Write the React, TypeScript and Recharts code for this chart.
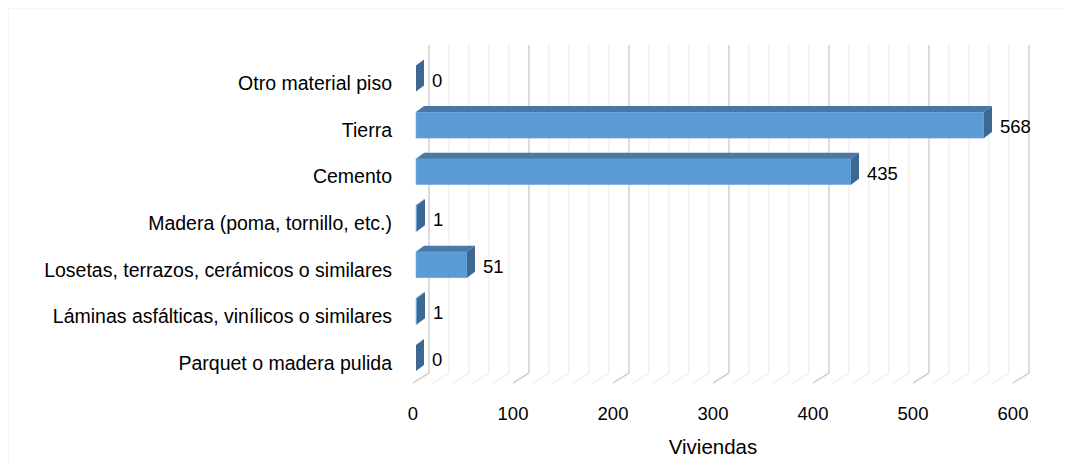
import { Bar, BarChart, CartesianGrid, LabelList, XAxis, YAxis } from "recharts";

const categories = [
  "Otro material piso",
  "Tierra",
  "Cemento",
  "Madera (poma, tornillo, etc.)",
  "Losetas, terrazos, cerámicos o similares",
  "Láminas asfálticas, vinílicos o similares",
  "Parquet o madera pulida",
];
const viviendas = [0, 568, 435, 1, 51, 1, 0];
// grid every 20, labels only every 100
const gridValues = [
  0, 20, 40, 60, 80, 100, 120, 140, 160, 180, 200, 220, 240, 260, 280, 300,
  320, 340, 360, 380, 400, 420, 440, 460, 480, 500, 520, 540, 560, 580, 600,
];
const labelStep = 100;

const data = categories.map((name, i) => ({ name, value: viviendas[i] }));

const FONT = '"Liberation Sans", Arial, sans-serif';
const DEPTH_X = 16;
const DEPTH_Y = 10;
const BAR_DX = 8;
const BAR_DY = 6;
const BAR_SHIFT_X = 3;
const BAR_SHIFT_Y = -4.5;

function GridLine3D(props: any) {
  const x = props.x1;
  const top = Math.min(props.y1, props.y2);
  const bottom = Math.max(props.y1, props.y2);
  const major = (props.index ?? 0) % 5 === 0;
  const stroke = major ? "#d3d3d3" : "#ececec";
  const sw = major ? 1.6 : 1.2;
  return (
    <g key={`g-${props.index}`}>
      <line
        x1={x + DEPTH_X}
        y1={top - 15}
        x2={x + DEPTH_X}
        y2={bottom - 3 - DEPTH_Y}
        stroke={stroke}
        strokeWidth={sw}
      />
      <line
        x1={x}
        y1={bottom - 3}
        x2={x + DEPTH_X}
        y2={bottom - 3 - DEPTH_Y}
        stroke={stroke}
        strokeWidth={sw}
      />
    </g>
  );
}

function Bar3D(props: any) {
  const { x, y, width, height } = props;
  const x0 = x + BAR_SHIFT_X;
  const y0 = y + BAR_SHIFT_Y;
  const w = Math.max(width, 0);
  const h = height;
  const top = `${x0},${y0} ${x0 + BAR_DX},${y0 - BAR_DY} ${x0 + w + BAR_DX},${y0 - BAR_DY} ${x0 + w},${y0}`;
  const side = `${x0 + w},${y0} ${x0 + w + BAR_DX},${y0 - BAR_DY} ${x0 + w + BAR_DX},${y0 + h - BAR_DY} ${x0 + w},${y0 + h}`;
  return (
    <g>
      <rect x={x0} y={y0} width={w} height={h} fill="#5b9bd5" stroke="#79aee0" strokeWidth={0.6} />
      <polygon points={top} fill="#4878a6" />
      <polygon points={side} fill="#3c6892" />
    </g>
  );
}

function ValueLabel(props: any) {
  const { x, y, width, height, value } = props;
  return (
    <text
      x={x + BAR_SHIFT_X + width + BAR_DX + 8}
      y={y + BAR_SHIFT_Y + height / 2 + 8}
      fontSize={18.5}
      fontFamily={FONT}
      fill="#000"
    >
      {value}
    </text>
  );
}

function CategoryTick(props: any) {
  const { x, y, payload } = props;
  return (
    <text
      x={x}
      y={y + 7}
      textAnchor="end"
      fontSize={19.5}
      fontFamily={FONT}
      fill="#000"
    >
      {payload.value}
    </text>
  );
}

function ValueTick(props: any) {
  const { x, y, payload } = props;
  if (payload.value % labelStep !== 0) return <g />;
  return (
    <text
      x={x}
      y={y + 34}
      textAnchor="middle"
      fontSize={18.5}
      fontFamily={FONT}
      fill="#000"
    >
      {payload.value}
    </text>
  );
}

function Frame() {
  // chart frame (only top/left edges are in view) and the clipped title
  return (
    <svg
      width={1072}
      height={463}
      style={{ position: "absolute", left: 0, top: 0, pointerEvents: "none" }}
    >
      <line x1={7.5} y1={7.5} x2={1072} y2={7.5} stroke="#d9d9d9" strokeWidth={1.5} />
      <line x1={7.5} y1={7.5} x2={7.5} y2={463} stroke="#d9d9d9" strokeWidth={1.5} />
      <text
        x={546}
        y={3}
        textAnchor="middle"
        fontSize={20}
        fontWeight="bold"
        fontFamily={FONT}
        fill="#000"
      >
        Gráfico 4: Material predominante en los pisos
      </text>
    </svg>
  );
}

function App() {
  return (
    <div
      style={{
        position: "relative",
        width: 1072,
        height: 463,
        marginLeft: -8,
        marginTop: -8,
        overflow: "hidden",
      }}
    >
      <BarChart
        width={1072}
        height={463}
        data={data}
        layout="vertical"
        margin={{ top: 60, right: 59, bottom: 0, left: 0 }}
        barCategoryGap={0}
      >
        <CartesianGrid horizontal={false} vertical={GridLine3D} />
        <XAxis
          type="number"
          domain={[0, 600]}
          ticks={gridValues}
          interval={0}
          axisLine={false}
          tickLine={false}
          tickSize={0}
          tickMargin={0}
          height={77}
          tick={<ValueTick />}
          label={{
            value: "Viviendas",
            position: "insideBottom",
            offset: 9,
            fontSize: 20.5,
            fontFamily: FONT,
            fill: "#000",
          }}
        />
        <YAxis
          type="category"
          dataKey="name"
          width={413}
          axisLine={false}
          tickLine={false}
          tickSize={0}
          tickMargin={21}
          interval={0}
          tick={<CategoryTick />}
        />
        <Bar
          dataKey="value"
          barSize={26}
          shape={<Bar3D />}
          isAnimationActive={false}
        >
          <LabelList dataKey="value" content={<ValueLabel />} />
        </Bar>
      </BarChart>
      <Frame />
    </div>
  );
}

export default App;
